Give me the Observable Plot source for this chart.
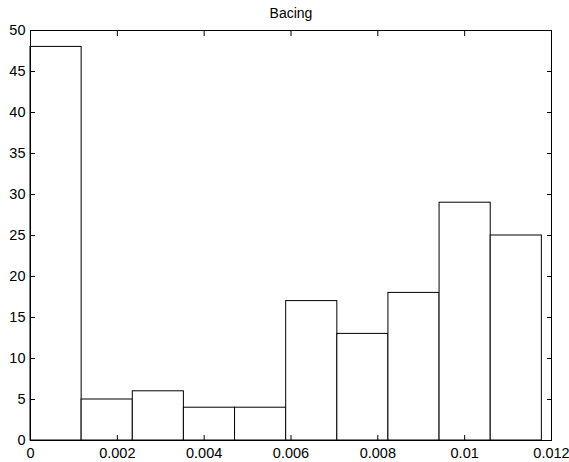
<!DOCTYPE html>
<html>
<head>
<meta charset="utf-8">
<script src="https://cdn.jsdelivr.net/npm/d3@7"></script>
<script src="https://cdn.jsdelivr.net/npm/@observablehq/plot@0.6"></script>
<style>
  html, body { margin: 0; padding: 0; background: #fff; }
  svg { font-family: "Liberation Sans", Arial, sans-serif; }
</style>
</head>
<body>
<div id="chart"></div>
<script>
const title = "Bacing";
const binStarts = [0, 0.001178, 0.002356, 0.003533, 0.004711, 0.005889, 0.007067, 0.008244, 0.009422, 0.010600];
const binEnds   = [0.001178, 0.002356, 0.003533, 0.004711, 0.005889, 0.007067, 0.008244, 0.009422, 0.010600, 0.011778];
const counts    = [48, 5, 6, 4, 4, 17, 13, 18, 29, 25];
const xTicks = [0, 0.002, 0.004, 0.006, 0.008, 0.01, 0.012];
const yTicks = [0, 5, 10, 15, 20, 25, 30, 35, 40, 45, 50];

const bins = counts.map((c, i) => ({x1: binStarts[i], x2: binEnds[i], y: c}));

const chart = Plot.plot({
  width: 569,
  height: 462,
  marginLeft: 30,
  marginRight: 18,
  marginTop: 30,
  marginBottom: 22,
  style: {fontSize: "14.5px", fontFamily: "Liberation Sans, Arial, sans-serif", color: "#000", background: "#fff"},
  x: {domain: [0, 0.012]},
  y: {domain: [0, 50]},
  marks: [
    Plot.rectY(bins, {x1: "x1", x2: "x2", y: "y", fill: "white", stroke: "black", strokeWidth: 1}),
    Plot.frame({stroke: "black", strokeWidth: 1}),
    Plot.axisX({ticks: xTicks, tickSize: -5, tickPadding: 12, tickFormat: d => String(d), label: null, anchor: "bottom", fontSize: 14.5}),
    Plot.axisX({ticks: xTicks, tickSize: -5, tickFormat: null, label: null, anchor: "top", text: null}),
    Plot.axisY({ticks: yTicks, tickSize: -5, tickPadding: 10, tickFormat: d => String(d), label: null, anchor: "left", fontSize: 14.5}),
    Plot.axisY({ticks: yTicks, tickSize: -5, label: null, anchor: "right", text: null}),
    Plot.text([title], {frameAnchor: "top", dy: -22, text: d => d, fontSize: 14})
  ]
});
document.getElementById("chart").append(chart);
</script>
</body>
</html>
